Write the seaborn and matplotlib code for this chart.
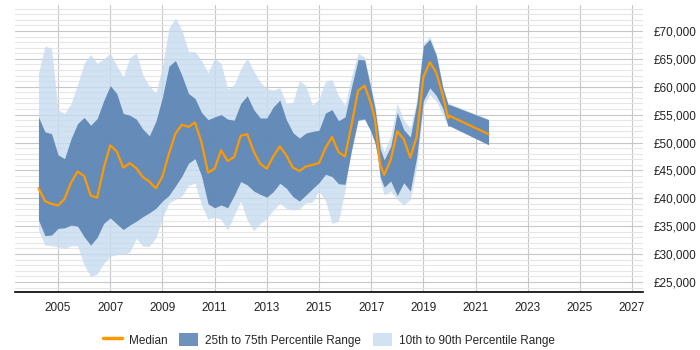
import matplotlib
matplotlib.use("Agg")
import matplotlib.pyplot as plt
import matplotlib.ticker as mticker
from matplotlib.patches import Patch
from matplotlib.lines import Line2D
import seaborn as sns
import pandas as pd

# decimal years of each sample
years = [
    2004.25, 2004.5, 2004.75, 2005.0, 2005.25, 2005.5, 2005.75, 2006.0,
    2006.25, 2006.5, 2006.75, 2007.0, 2007.25, 2007.5, 2007.75, 2008.0,
    2008.25, 2008.5, 2008.75, 2009.0, 2009.25, 2009.5, 2009.75, 2010.0,
    2010.25, 2010.5, 2010.75, 2011.0, 2011.25, 2011.5, 2011.75, 2012.0,
    2012.25, 2012.5, 2012.75, 2013.0, 2013.25, 2013.5, 2013.75, 2014.0,
    2014.25, 2014.5, 2014.75, 2015.0, 2015.25, 2015.5, 2015.75, 2016.0,
    2016.25, 2016.5, 2016.75, 2017.0, 2017.15, 2017.25, 2017.35, 2017.5,
    2017.75, 2018.0, 2018.25, 2018.5, 2018.75, 2019.0, 2019.25, 2019.5,
    2019.75, 2019.95, 2020.0, 2021.5,
]

# salary values in thousands of pounds
median = [
    41.8, 39.5, 39.0, 38.7, 39.9, 42.8, 44.8, 44.0,
    40.5, 40.1, 45.4, 49.5, 48.4, 45.5, 46.3, 45.4,
    43.8, 43.0, 41.8, 43.9, 48.0, 51.6, 53.2, 52.8,
    53.6, 50.0, 44.6, 45.3, 48.6, 46.7, 47.4, 51.2,
    51.5, 48.4, 46.2, 45.3, 47.5, 49.3, 47.7, 45.5,
    44.9, 45.7, 46.0, 46.3, 49.0, 51.0, 48.3, 47.5,
    53.2, 59.3, 60.2, 56.9, 54.1, 49.8, 46.0, 44.2,
    46.9, 52.0, 50.6, 47.3, 51.1, 61.7, 64.4, 62.5,
    58.4, 54.4, 54.8, 51.5,
]
p75 = [
    54.6, 51.9, 51.6, 47.8, 47.1, 50.7, 53.4, 54.5,
    53.1, 54.3, 57.5, 60.2, 58.8, 55.2, 54.9, 54.2,
    52.4, 51.2, 53.8, 58.1, 63.7, 64.7, 62.0, 58.8,
    57.9, 55.4, 54.1, 54.6, 55.0, 54.2, 54.0, 57.0,
    58.4, 55.9, 54.4, 54.4, 56.4, 57.6, 54.1, 51.8,
    50.8, 51.7, 52.0, 52.2, 55.3, 55.9, 53.9, 54.6,
    60.0, 64.9, 64.8, 59.5, 56.0, 52.6, 48.8, 46.9,
    49.3, 55.4, 52.3, 51.0, 57.0, 67.3, 68.5, 65.6,
    59.8, 56.8, 56.8, 54.1,
]
p25 = [
    36.1, 33.3, 33.4, 34.6, 34.7, 35.2, 35.0, 33.1,
    31.6, 33.0, 35.5, 36.5, 35.4, 34.4, 35.2, 35.9,
    36.7, 37.4, 38.2, 39.5, 40.5, 42.2, 44.0, 46.3,
    47.1, 44.0, 39.0, 38.3, 38.8, 38.3, 40.5, 43.0,
    42.4, 41.3, 40.7, 40.2, 41.2, 42.7, 41.8, 40.3,
    39.5, 40.6, 41.7, 42.8, 44.3, 43.9, 42.6, 42.5,
    48.6, 54.0, 54.2, 51.9, 49.9, 47.5, 43.8, 42.0,
    43.1, 40.5, 42.8, 41.3, 47.5, 57.5, 59.8, 58.4,
    56.1, 52.9, 53.0, 49.6,
]
p90 = [
    62.4, 67.3, 66.9, 55.9, 55.2, 57.0, 60.4, 64.2,
    65.8, 64.2, 65.0, 66.0, 63.8, 61.8, 65.2, 66.1,
    62.1, 60.1, 58.9, 63.5, 70.5, 72.3, 70.1, 66.3,
    66.3, 64.7, 62.5, 65.1, 64.2, 59.6, 60.4, 63.2,
    65.2, 62.8, 60.8, 59.7, 59.4, 59.8, 57.0, 57.2,
    61.1, 60.2, 56.7, 57.8, 61.0, 61.3, 58.4, 56.7,
    61.9, 66.0, 65.3, 59.9, 56.8, 53.5, 50.2, 48.4,
    51.2, 57.0, 54.0, 52.6, 57.5, 67.7, 69.0, 65.9,
    60.1, 57.0, 57.0, 54.2,
]
p10 = [
    34.3, 31.6, 31.5, 31.3, 31.0, 31.5, 31.5, 28.0,
    26.0, 26.4, 28.3, 29.6, 29.9, 29.9, 30.4, 32.8,
    31.4, 31.4, 32.9, 36.5, 39.2, 39.8, 40.4, 42.3,
    42.7, 38.8, 36.2, 36.6, 36.2, 34.3, 37.0, 39.5,
    36.1, 34.2, 35.5, 36.4, 37.9, 39.1, 38.2, 37.9,
    38.1, 39.2, 39.3, 41.3, 39.6, 35.5, 35.9, 41.5,
    49.5, 54.5, 54.3, 51.9, 49.9, 47.0, 43.1, 40.6,
    41.3, 39.8, 38.8, 39.8, 45.7, 56.5, 58.6, 57.4,
    54.9, 52.9, 53.0, 49.6,
]

df = pd.DataFrame({"year": years, "median": median, "p25": p25,
                   "p75": p75, "p10": p10, "p90": p90})
df[["median", "p25", "p75", "p10", "p90"]] *= 1000

ORANGE = "#ff9900"
DARK = "#4a77aa"
LIGHT = "#c6dbef"

sns.set_style("white")
plt.rcParams["font.family"] = ["Liberation Sans", "DejaVu Sans"]

fig = plt.figure(figsize=(7, 3.5), dpi=100)
ax = fig.add_axes([0.0214, 0.165, 0.8972, 0.8207])

ax.fill_between(df["year"], df["p10"], df["p90"], color=LIGHT, alpha=0.8, linewidth=0)
ax.fill_between(df["year"], df["p25"], df["p75"], color=DARK, alpha=0.8, linewidth=0)
sns.lineplot(data=df, x="year", y="median", color=ORANGE, linewidth=1.6, ax=ax)

ax.set_xlim(2003.35, 2027.42)
ax.set_ylim(23150, 74660)

ax.xaxis.set_major_locator(mticker.FixedLocator(list(range(2005, 2028, 2))))
ax.yaxis.set_major_locator(mticker.MultipleLocator(5000))
ax.yaxis.set_minor_locator(mticker.MultipleLocator(1000))
ax.yaxis.set_major_formatter(mticker.FuncFormatter(lambda v, p: f"£{v:,.0f}"))
ax.yaxis.tick_right()

ax.grid(which="major", axis="both", color="#c8c8c8", linewidth=0.8)
ax.grid(which="minor", axis="y", color="#e6e6e6", linewidth=0.8)
ax.set_axisbelow(True)

ax.tick_params(axis="both", which="both", length=0, labelsize=8.5, colors="#222222")
ax.tick_params(axis="y", pad=8)
ax.tick_params(axis="x", pad=7)
ax.set_xlabel("")
ax.set_ylabel("")

for side in ["top", "left", "right"]:
    ax.spines[side].set_visible(False)
ax.spines["bottom"].set_color("black")
ax.spines["bottom"].set_linewidth(1.2)

handles = [
    Line2D([0], [0], color=ORANGE, linewidth=2.5),
    Patch(facecolor=DARK, alpha=0.8, edgecolor="none"),
    Patch(facecolor=LIGHT, alpha=0.8, edgecolor="none"),
]
labels = ["Median", "25th to 75th Percentile Range", "10th to 90th Percentile Range"]
ax.legend(handles, labels, loc="center", bbox_to_anchor=(0.5, -0.165), ncol=3,
          frameon=False, fontsize=8.5, handlelength=1.6, handleheight=1.4,
          handletextpad=0.6, columnspacing=1.0)

fig.savefig("out.png", dpi=100)
